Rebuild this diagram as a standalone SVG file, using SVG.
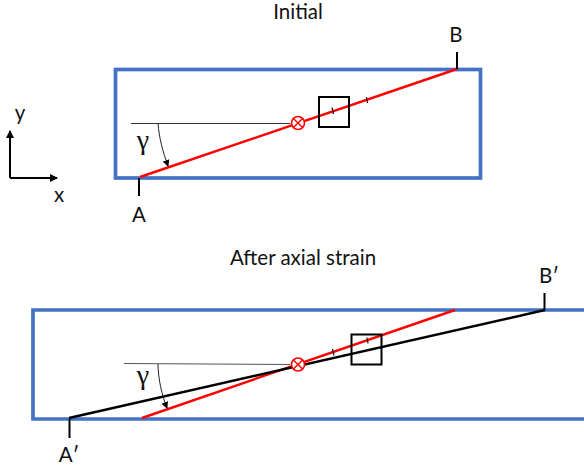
<svg xmlns="http://www.w3.org/2000/svg" width="584" height="467" viewBox="0 0 584 467">
<defs>
<marker id="big" markerUnits="userSpaceOnUse" markerWidth="10" markerHeight="10" refX="7" refY="4" orient="auto"><path d="M0 0L8 4L0 8Z" fill="#000"/></marker>
<marker id="small" markerUnits="userSpaceOnUse" markerWidth="10" markerHeight="10" refX="6" refY="3.500" orient="auto"><path d="M0 0L7 3.500L0 7Z" fill="#000"/></marker>
</defs>
<style>
text{font-family:"Lato","Liberation Sans",sans-serif;font-size:20.500px;fill:#111;text-anchor:middle}
.g{font-family:"Liberation Serif",serif;font-size:28px}
.box{fill:none;stroke:#4472c4;stroke-width:3.700}
.red{stroke:#ff0000;stroke-width:2.400;fill:none}
.blk{stroke:#000;stroke-width:2.400;fill:none}
.thin{stroke:#333;stroke-width:1;fill:none}
.tick{stroke:#000;stroke-width:2;fill:none}
.sq{fill:none;stroke:#000;stroke-width:2}
.t{stroke:#222;stroke-width:1;fill:none}
.o{fill:#fff;stroke:#ff0000;stroke-width:1.600}
.oc{stroke:#ff0000;stroke-width:1.400}
</style>
<g id="title-initial"><text x="298" y="19">Initial</text></g>
<g id="title-after"><text x="303" y="265">After axial strain</text></g>
<g id="axes">
<path class="tick" d="M10 178V131" marker-end="url(#big)"/>
<path class="tick" d="M10 178H57" marker-end="url(#big)"/>
<text x="20" y="120">y</text>
<text x="59" y="202">x</text>
</g>
<g id="rect-initial"><rect class="box" x="115.500" y="69.500" width="365" height="108.500"/></g>
<g id="rect-after"><path class="box" d="M584 310H33V419H584"/></g>
<g id="connectors">
<path class="thin" d="M131 123.500H290"/>
<path class="red" d="M140 177L457 69"/>
<path class="tick" d="M139 178V196"/>
<path class="tick" d="M457 52V69"/>
<path class="t" d="M158 123C159 138 163 152 168 166" marker-end="url(#small)"/>
<path class="t" style="stroke-width:1.300" d="M332 107.500L333.500 114M366.500 97L367.500 103"/>
<path class="thin" style="stroke:#555" d="M124 363.500L290 364.500"/>
<path class="red" d="M142 418L455 310"/>
<path class="blk" d="M69 418L545 310"/>
<path class="tick" d="M69.500 419V438"/>
<path class="tick" d="M544.500 293V310"/>
<path class="t" d="M158 364C158 378 162 396 167 408" marker-end="url(#small)"/>
<path class="t" style="stroke-width:1.300" d="M332.500 349L334 355.500M367 337.500L368 343.500"/>
</g>
<g id="marker-initial"><circle class="o" cx="298" cy="123" r="6.500"/><path class="oc" d="M293.400 118.400L302.600 127.600M302.600 118.400L293.400 127.600"/></g>
<g id="marker-after"><circle class="o" cx="298" cy="364.500" r="6.500"/><path class="oc" d="M293.400 359.900L302.600 369.100M302.600 359.900L293.400 369.100"/></g>
<g id="square-initial"><rect class="sq" x="319" y="97" width="30" height="30"/></g>
<g id="square-after"><rect class="sq" x="351.500" y="334.500" width="30" height="30"/></g>
<g id="label-a"><text x="139" y="222">A</text></g>
<g id="label-b"><text x="456" y="42">B</text></g>
<g id="label-a2"><text x="69" y="462">A′</text></g>
<g id="label-b2"><text x="549" y="283">B′</text></g>
<g id="gamma1"><text class="g" x="143" y="149">γ</text></g>
<g id="gamma2"><text class="g" x="143" y="384">γ</text></g>
</svg>
